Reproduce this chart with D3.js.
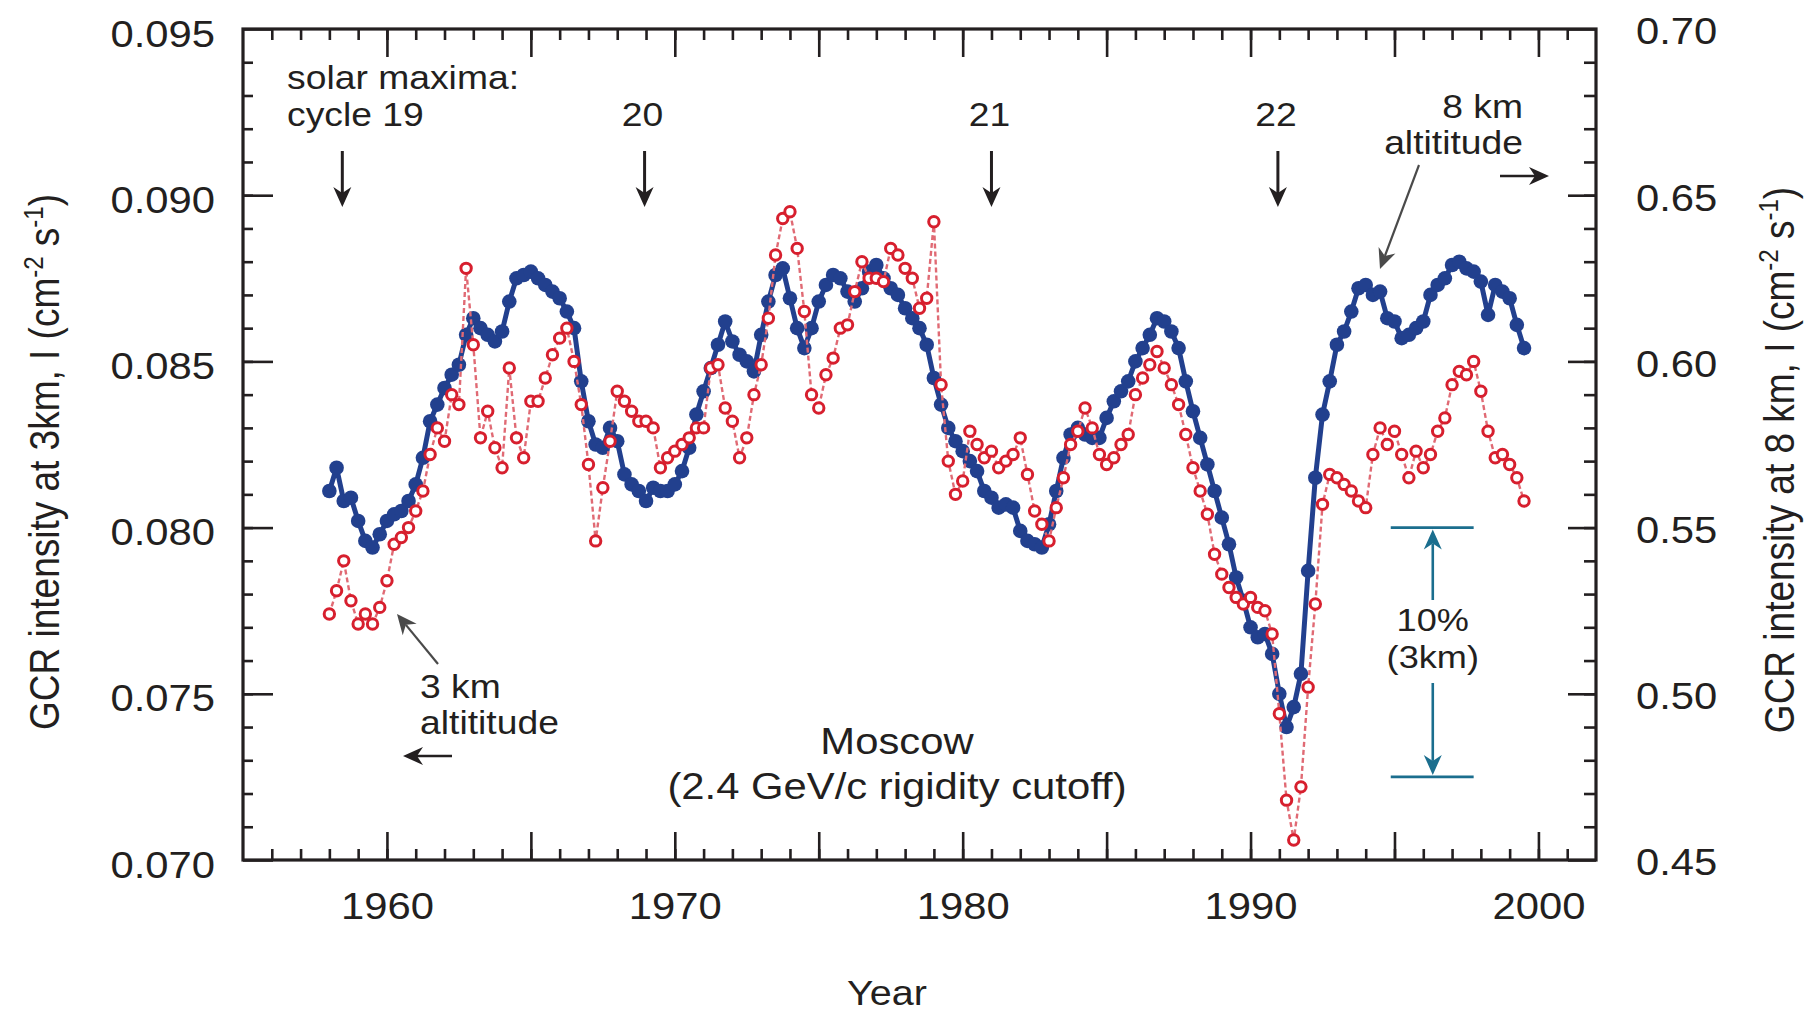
<!DOCTYPE html>
<html>
<head>
<meta charset="utf-8">
<script src="https://cdn.jsdelivr.net/npm/d3@7"></script>
<style>
  html, body { margin: 0; padding: 0; background: #fff; }
  svg text { font-family: "Liberation Sans", Arial, Helvetica, sans-serif; fill: #231f20; }
</style>
</head>
<body>
<svg id="chart" width="1816" height="1013"></svg>
<script>
// quarterly samples, first one at startYear
var startYear = 1958.0, stepYear = 0.25;

// 8 km altitude (right axis), cm^-2 s^-1
var gcr8km = [
  .561,.568,.558,.559, .552,.546,.544,.548, .552,.554,.555,.558, .563,.571,.582,.587,
  .592,.596,.599,.608, .613,.610,.608,.606, .609,.618,.625,.626, .627,.625,.623,.621,
  .619,.615,.610,.594, .582,.575,.574,.580, .576,.566,.563,.561, .558,.562,.561,.561,
  .563,.567,.574,.584, .591,.598,.605,.612, .606,.602,.600,.597, .608,.618,.626,.628,
  .619,.610,.604,.610, .618,.623,.626,.625, .621,.618,.622,.627, .629,.625,.622,.620,
  .616,.613,.610,.605, .595,.587,.580,.576, .573,.570,.567,.561, .559,.556,.557,.556,
  .549,.546,.545,.544, .551,.561,.571,.578, .580,.578,.577,.577, .583,.588,.591,.594,
  .600,.604,.608,.613, .612,.609,.604,.594, .585,.577,.569,.561, .553,.545,.535,.528,
  .520,.517,.518,.512, .500,.490,.496,.506, .537,.565,.584,.594, .605,.609,.615,.622,
  .623,.620,.621,.613, .612,.607,.608,.610, .612,.620,.623,.625, .629,.630,.628,.627,
  .624,.614,.623,.621, .619,.611,.604
];

// 3 km altitude (left axis), cm^-2 s^-1
var gcr3km = [
  .0774,.0781,.0790,.0778, .0771,.0774,.0771,.0776, .0784,.0795,.0797,.0800, .0805,.0811,.0822,.0830,
  .0826,.0840,.0837,.0878, .0855,.0827,.0835,.0824, .0818,.0848,.0827,.0821, .0838,.0838,.0845,.0852,
  .0857,.0860,.0850,.0837, .0819,.0796,.0812,.0826, .0841,.0838,.0835,.0832, .0832,.0830,.0818,.0821,
  .0823,.0825,.0827,.0830, .0830,.0848,.0849,.0836, .0832,.0821,.0827,.0840, .0849,.0863,.0882,.0893,
  .0895,.0884,.0865,.0840, .0836,.0846,.0851,.0860, .0861,.0871,.0880,.0875, .0875,.0874,.0884,.0882,
  .0878,.0875,.0866,.0869, .0892,.0843,.0820,.0810, .0814,.0829,.0825,.0821, .0823,.0818,.0820,.0822,
  .0827,.0816,.0805,.0801, .0796,.0806,.0815,.0825, .0829,.0836,.0830,.0822, .0819,.0821,.0825,.0828,
  .0840,.0845,.0849,.0853, .0848,.0843,.0837,.0828, .0818,.0811,.0804,.0792, .0786,.0782,.0779,.0777,
  .0779,.0776,.0775,.0768, .0744,.0718,.0706,.0722, .0752,.0777,.0807,.0816, .0815,.0813,.0811,.0808,
  .0806,.0822,.0830,.0825, .0829,.0822,.0815,.0823, .0818,.0822,.0829,.0833, .0843,.0847,.0846,.0850,
  .0841,.0829,.0821,.0822, .0819,.0815,.0808
];

var solarMaxima = [
  {label: "cycle 19", year: 1958.45},
  {label: "20", year: 1968.95},
  {label: "21", year: 1981.0},
  {label: "22", year: 1990.95}
];

var yearLabels = [1960, 1970, 1980, 1990, 2000];
var leftTicks = [0.070, 0.075, 0.080, 0.085, 0.090, 0.095];
var rightTicks = [0.45, 0.50, 0.55, 0.60, 0.65, 0.70];

var ink = "#231f20", blue = "#22408e", red = "#d71f2e", teal = "#1b6e8e";
var sx = 1.13;   // the printed figure is a bit wide, stretch the glyphs
var plot = {left: 243, right: 1596, top: 29, bottom: 860};

var svg = d3.select("#chart");

var x = d3.scaleLinear().domain([1955, 2002]).range([plot.left, plot.right]);
var yL = d3.scaleLinear().domain([0.070, 0.095]).range([plot.bottom, plot.top]);
var yR = d3.scaleLinear().domain([0.45, 0.70]).range([plot.bottom, plot.top]);

function tickYear(i) { return startYear + i * stepYear; }

// ---- axes, ticks point inwards
function styleAxis(g) {
    g.attr("font-size", null).attr("font-family", null);
    g.select(".domain").remove();
    g.selectAll(".tick line").attr("stroke", ink).attr("stroke-width", 2.6);
    g.selectAll(".tick text").attr("font-size", 37).attr("fill", ink)
        .attr("transform", "scale(" + sx + ",1)");
}

var minorYears = d3.range(1956, 2002);
var majorYears = d3.range(1960, 2001, 5);

svg.append("g").attr("transform", "translate(0," + plot.bottom + ")")
    .call(d3.axisBottom(x).tickValues(minorYears).tickSize(-11).tickSizeOuter(0).tickFormat(""))
    .call(styleAxis);
svg.append("g").attr("transform", "translate(0," + plot.bottom + ")")
    .call(d3.axisBottom(x).tickValues(majorYears).tickSize(-28).tickSizeOuter(0)
        .tickFormat(function(d) { return yearLabels.indexOf(d) >= 0 ? d : ""; }))
    .call(styleAxis)
    .selectAll(".tick text").attr("y", 59).attr("dy", null);

svg.append("g").attr("transform", "translate(0," + plot.top + ")")
    .call(d3.axisTop(x).tickValues(minorYears).tickSize(-11).tickSizeOuter(0).tickFormat(""))
    .call(styleAxis);
svg.append("g").attr("transform", "translate(0," + plot.top + ")")
    .call(d3.axisTop(x).tickValues(majorYears).tickSize(-28).tickSizeOuter(0).tickFormat(""))
    .call(styleAxis);

var minorL = d3.range(71, 95).map(function(d) { return d / 1000; });
svg.append("g").attr("transform", "translate(" + plot.left + ",0)")
    .call(d3.axisLeft(yL).tickValues(minorL).tickSize(-10).tickSizeOuter(0).tickFormat(""))
    .call(styleAxis);
svg.append("g").attr("transform", "translate(" + plot.left + ",0)")
    .call(d3.axisLeft(yL).tickValues(leftTicks).tickSize(-30).tickSizeOuter(0).tickFormat(d3.format(".3f")))
    .call(styleAxis)
    .selectAll(".tick text").attr("x", -28 / sx).attr("dy", "0.46em");

var minorR = d3.range(46, 70).map(function(d) { return d / 100; });
svg.append("g").attr("transform", "translate(" + plot.right + ",0)")
    .call(d3.axisRight(yR).tickValues(minorR).tickSize(-12).tickSizeOuter(0).tickFormat(""))
    .call(styleAxis);
svg.append("g").attr("transform", "translate(" + plot.right + ",0)")
    .call(d3.axisRight(yR).tickValues(rightTicks).tickSize(-28).tickSizeOuter(0).tickFormat(d3.format(".2f")))
    .call(styleAxis)
    .selectAll(".tick text").attr("x", 40 / sx).attr("dy", "0.40em");

svg.append("rect")
    .attr("x", plot.left).attr("y", plot.top)
    .attr("width", plot.right - plot.left).attr("height", plot.bottom - plot.top)
    .attr("fill", "none").attr("stroke", ink).attr("stroke-width", 3.2);

// ---- text helpers
function label(px, py, str, size, anchor, color) {
    return svg.append("text")
        .attr("transform", "translate(" + px + "," + py + ") scale(" + sx + ",1)")
        .attr("font-size", size)
        .attr("text-anchor", anchor || "start")
        .style("fill", color || ink)
        .text(str);
}

function axisTitle(px, py, str) {
    var t = svg.append("text")
        .attr("transform", "translate(" + px + "," + py + ") scale(" + sx + ",1) rotate(-90)")
        .attr("font-size", 37)
        .attr("text-anchor", "middle");
    t.append("tspan").text(str + " (cm");
    t.append("tspan").attr("font-size", 24).attr("dy", -14).text("-2");
    t.append("tspan").attr("dy", 14).text(" s");
    t.append("tspan").attr("font-size", 24).attr("dy", -14).text("-1");
    t.append("tspan").attr("dy", 14).text(")");
}

// barbed arrow from (x1,y1) to the tip (x2,y2)
function arrow(x1, y1, x2, y2, color, width, len, half) {
    var a = Math.atan2(y2 - y1, x2 - x1);
    var ux = Math.cos(a), uy = Math.sin(a);
    var bx = x2 - ux * len, by = y2 - uy * len;
    var nx = x2 - ux * len * 0.7, ny = y2 - uy * len * 0.7;
    svg.append("line")
        .attr("x1", x1).attr("y1", y1).attr("x2", nx).attr("y2", ny)
        .attr("stroke", color).attr("stroke-width", width);
    svg.append("path")
        .attr("d", "M" + x2 + "," + y2 +
            "L" + (bx - uy * half) + "," + (by + ux * half) +
            "L" + nx + "," + ny +
            "L" + (bx + uy * half) + "," + (by - ux * half) + "Z")
        .attr("fill", color);
}

axisTitle(59, 462, "GCR intensity at 3km, I");
axisTitle(1794, 460, "GCR intensity at 8 km, I");
label(887, 1005, "Year", 35, "middle");

// ---- data
var line8 = d3.line()
    .x(function(d, i) { return x(tickYear(i)); })
    .y(function(d) { return yR(d); });
var line3 = d3.line()
    .x(function(d, i) { return x(tickYear(i)); })
    .y(function(d) { return yL(d); });

svg.append("path").datum(gcr8km).attr("d", line8)
    .attr("fill", "none").attr("stroke", blue).attr("stroke-width", 5)
    .attr("stroke-linejoin", "round");
svg.append("g").selectAll("circle").data(gcr8km).enter().append("circle")
    .attr("cx", function(d, i) { return x(tickYear(i)); })
    .attr("cy", function(d) { return yR(d); })
    .attr("r", 7.3)
    .attr("fill", blue);

svg.append("path").datum(gcr3km).attr("d", line3)
    .attr("fill", "none").attr("stroke", "#e06a74").attr("stroke-width", 2.4)
    .attr("stroke-dasharray", "5,3");
svg.append("g").selectAll("circle").data(gcr3km).enter().append("circle")
    .attr("cx", function(d, i) { return x(tickYear(i)); })
    .attr("cy", function(d) { return yL(d); })
    .attr("r", 5.2)
    .attr("fill", "#fff")
    .attr("stroke", red).attr("stroke-width", 3);

// ---- annotations
label(287, 89, "solar maxima:", 33, "start");
solarMaxima.forEach(function(m, i) {
    var cx = x(m.year);
    if (i === 0) label(287, 126, m.label, 33, "start");
    else label(cx - 2, 126, m.label, 33, "middle");
    arrow(cx, 151, cx, 207, ink, 3, 20, 9);
});

label(1523, 118, "8 km", 33, "end");
label(1523, 154, "altititude", 33, "end");
arrow(1500, 176, 1549, 176, ink, 2.5, 20, 9);
arrow(1419, 165, 1380, 269, "#4a4a4a", 2.2, 20, 9);

label(420, 698, "3 km", 33, "start");
label(420, 734, "altititude", 33, "start");
arrow(438, 664, 397, 614, "#4a4a4a", 2.2, 20, 9);
arrow(452, 756, 403, 756, ink, 2.5, 20, 9);

label(897, 754, "Moscow", 37, "middle");
label(897, 799, "(2.4 GeV/c rigidity cutoff)", 37, "middle");

// 10% bar
var barX = x(1996.33), barL = x(1994.87), barR = x(1997.75);
var barTop = yL(0.080), barBot = yL(0.0725);
[barTop, barBot].forEach(function(yy) {
    svg.append("line").attr("x1", barL).attr("x2", barR).attr("y1", yy).attr("y2", yy)
        .attr("stroke", teal).attr("stroke-width", 2.6);
});
arrow(barX, 600, barX, barTop + 2, teal, 2.6, 20, 9);
arrow(barX, 683, barX, barBot - 2, teal, 2.6, 20, 9);
label(barX, 631, "10%", 32, "middle");
label(barX, 668, "(3km)", 32, "middle");
</script>
</body>
</html>
